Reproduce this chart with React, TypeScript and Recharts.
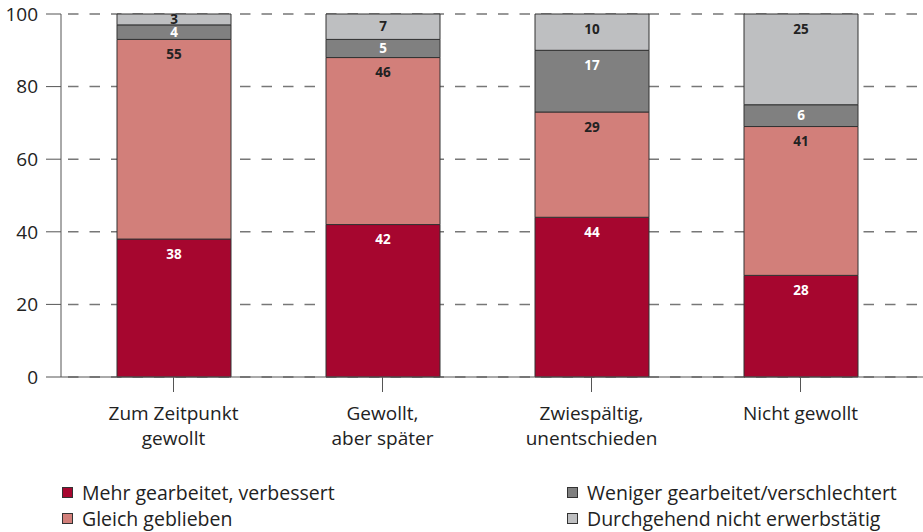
import { BarChart, Bar, XAxis, YAxis, CartesianGrid, LabelList } from "recharts"

const categories = [
  "Zum Zeitpunkt\ngewollt",
  "Gewollt,\naber später",
  "Zwiespältig,\nunentschieden",
  "Nicht gewollt",
]
const mehrGearbeitet = [38, 42, 44, 28]
const gleichGeblieben = [55, 46, 29, 41]
const wenigerGearbeitet = [4, 5, 17, 6]
const nichtErwerbstaetig = [3, 7, 10, 25]
const yTicks = [0, 20, 40, 60, 80, 100]

const SERIES = [
  { key: "mehr", name: "Mehr gearbeitet, verbessert", color: "#A6062F", text: "#fff" },
  { key: "gleich", name: "Gleich geblieben", color: "#D27F7A", text: "#222" },
  { key: "weniger", name: "Weniger gearbeitet/verschlechtert", color: "#808080", text: "#fff" },
  { key: "nicht", name: "Durchgehend nicht erwerbstätig", color: "#BEBFC1", text: "#222" },
]

const data = categories.map((c, i) => ({
  category: c,
  mehr: mehrGearbeitet[i],
  gleich: gleichGeblieben[i],
  weniger: wenigerGearbeitet[i],
  nicht: nichtErwerbstaetig[i],
}))

const FONT = "'Open Sans', sans-serif"

function CategoryTick({ x, y, payload }: any) {
  const lines = String(payload.value).split("\n")
  return (
    <g>
      {lines.map((l, i) => (
        <text
          key={i}
          x={x}
          y={y + 28 + i * 25}
          textAnchor="middle"
          fontFamily={FONT}
          fontSize={19}
          fill="#222"
        >
          {l}
        </text>
      ))}
    </g>
  )
}

function makeLabel(fill: string) {
  return (props: any) => {
    const { x, y, width, height, value } = props
    const cy = y + Math.min(15, height / 2)
    return (
      <text
        x={x + width / 2}
        y={cy}
        dy="0.35em"
        textAnchor="middle"
        fontFamily={FONT}
        fontWeight={700}
        fontSize={13.5}
        fill={fill}
      >
        {value}
      </text>
    )
  }
}

export default function App() {
  return (
    <div style={{ position: "absolute", left: 0, top: 0, width: 923, height: 532, background: "#fff" }}>
      <BarChart
        width={923}
        height={460}
        data={data}
        margin={{ top: 14, right: 0, left: 0, bottom: 0 }}
        barSize={114}
      >
        <CartesianGrid
          vertical={false}
          stroke="#777"
          strokeWidth={1.5}
          strokeDasharray="0 7 10.5 4"
        />
        <XAxis
          dataKey="category"
          height={83}
          padding={{ left: 8, right: 18 }}
          tickSize={15}
          tickMargin={0}
          stroke="#555"
          tick={<CategoryTick />}
          interval={0}
        />
        <YAxis
          width={61}
          domain={[0, 100]}
          ticks={yTicks}
          tickSize={15}
          tickMargin={8}
          stroke="#555"
          tick={{ fontFamily: FONT, fontSize: 19, fill: "#222" }}
          interval={0}
        />
        {SERIES.map(s => (
          <Bar
            key={s.key}
            dataKey={s.key}
            name={s.name}
            stackId="a"
            fill={s.color}
            stroke="#333"
            strokeWidth={1}
            isAnimationActive={false}
          >
            <LabelList dataKey={s.key} content={makeLabel(s.text)} />
          </Bar>
        ))}
      </BarChart>

      {SERIES.map((s, i) => (
        <div
          key={s.key}
          style={{
            position: "absolute",
            left: i < 2 ? 62 : 567,
            top: i % 2 === 0 ? 479 : 505,
            display: "flex",
            alignItems: "center",
            fontFamily: FONT,
            fontSize: 19.5,
            color: "#222",
            whiteSpace: "nowrap",
          }}
        >
          <span
            style={{
              width: 9,
              height: 9,
              background: s.color,
              border: "1px solid #333",
              marginRight: 9,
              display: "inline-block",
            }}
          />
          {s.name}
        </div>
      ))}
    </div>
  )
}
